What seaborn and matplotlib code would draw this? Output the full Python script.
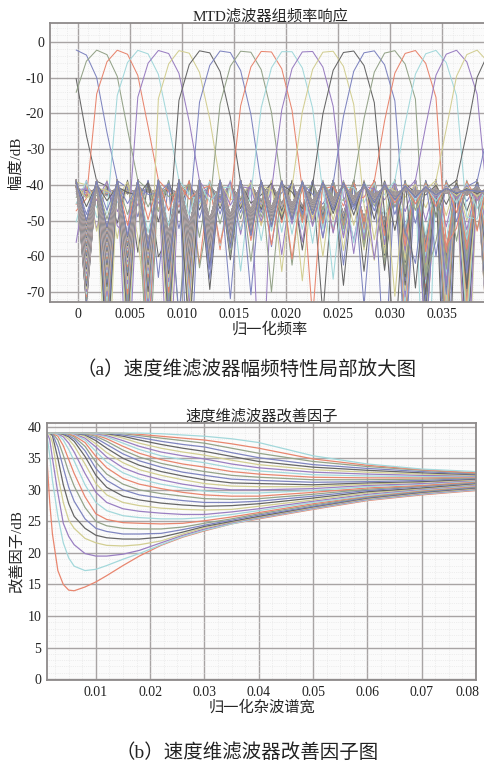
import numpy as np
import pandas as pd
import matplotlib
matplotlib.use("Agg")
import matplotlib.pyplot as plt
from matplotlib.ticker import FixedLocator, FixedFormatter, MultipleLocator
from matplotlib.transforms import ScaledTranslation
import seaborn as sns

# faded MATLAB colour order (b, g, r, c, m, y, k) as printed
line_colors = ["#7f85c0", "#94a389", "#e8866f", "#a3d8db", "#9a7fc2", "#d2ce92", "#666666"]

# ---- (a) MTD filter bank, Dolph-Chebyshev weighted DFT filters
n_filters = 498          # filters / pulses in the bank
cheb_sidelobe_db = 36.5  # sidelobe level below the main lobe
peak_level_db = -2.2     # level of the main lobe peaks
freq_step = 0.000988     # spacing of the computed frequency points
first_freq = -0.00017    # first computed frequency point
n_freq_shown = 41
first_filter, last_filter = -55, 85   # filters drawn (negative = wrapped)

freq_ticks = [0, 0.005, 0.010, 0.015, 0.020, 0.025, 0.030, 0.035]
freq_tick_labels = ["0", "0.005", "0.010", "0.015", "0.020", "0.025", "0.030", "0.035"]
gain_ticks = [0, -10, -20, -30, -40, -50, -60, -70]

# ---- (b) improvement factor of each filter vs clutter spectrum width
clutter_width = [0.001, 0.0015, 0.002, 0.003, 0.004, 0.005, 0.006, 0.008, 0.010, 0.012,
                 0.015, 0.018, 0.022, 0.026, 0.030, 0.035, 0.040, 0.050, 0.060, 0.070, 0.080]
if_curves = [
    [34.8, 28.0, 23.0, 17.2, 15.0, 14.1, 14.0, 14.6, 15.4, 16.4, 18.0, 19.5, 21.2, 22.5, 23.5, 24.6, 25.4, 26.9, 28.3, 29.2, 29.9],
    [38.6, 35.5, 31.5, 25.8, 21.6, 19.2, 17.9, 17.2, 17.4, 18.0, 19.0, 19.9, 21.3, 22.6, 23.6, 24.6, 25.5, 27.0, 28.4, 29.3, 30.0],
    [39.0, 38.0, 35.0, 29.5, 24.7, 22.6, 21.3, 19.9, 19.5, 19.5, 19.8, 20.4, 21.6, 22.8, 23.8, 24.8, 25.6, 27.1, 28.5, 29.4, 30.1],
    [39.0, 38.8, 37.5, 32.3, 28.0, 25.2, 23.9, 22.3, 21.6, 21.2, 21.1, 21.3, 21.9, 23.0, 24.0, 24.9, 25.7, 27.2, 28.6, 29.5, 30.2],
    [39.0, 39.0, 38.6, 35.0, 30.8, 27.8, 25.8, 23.9, 22.8, 22.4, 22.2, 22.2, 22.5, 23.3, 24.2, 25.0, 25.8, 27.3, 28.7, 29.6, 30.3],
    [39.0, 39.0, 38.9, 36.8, 33.5, 30.4, 28.2, 25.4, 23.9, 23.4, 23.0, 23.0, 23.1, 23.7, 24.4, 25.2, 26.0, 27.4, 28.8, 29.7, 30.4],
    [39.0, 39.0, 39.0, 37.9, 35.5, 32.8, 30.6, 27.2, 25.0, 24.3, 23.9, 23.8, 23.8, 24.1, 24.7, 25.4, 26.2, 27.6, 28.9, 29.8, 30.5],
    [39.0, 39.0, 39.0, 38.5, 37.0, 34.8, 32.6, 28.9, 26.2, 25.3, 24.8, 24.7, 24.6, 24.7, 25.1, 25.7, 26.4, 27.8, 29.0, 29.9, 30.6],
    [39.0, 39.0, 39.0, 38.8, 37.9, 36.4, 34.6, 30.8, 28.0, 26.7, 25.9, 25.6, 25.4, 25.4, 25.6, 26.1, 26.7, 28.0, 29.1, 30.0, 30.7],
    [39.0, 39.0, 39.0, 38.9, 38.4, 37.4, 36.0, 32.6, 29.6, 28.0, 27.0, 26.6, 26.3, 26.1, 26.1, 26.5, 27.0, 28.2, 29.3, 30.1, 30.8],
    [39.0, 39.0, 39.0, 39.0, 38.7, 38.0, 37.0, 34.1, 31.0, 29.2, 28.0, 27.5, 27.1, 26.9, 26.8, 26.9, 27.4, 28.4, 29.5, 30.2, 30.9],
    [39.0, 39.0, 39.0, 39.0, 38.8, 38.4, 37.7, 35.3, 32.3, 30.4, 29.0, 28.4, 27.9, 27.6, 27.4, 27.5, 27.8, 28.7, 29.7, 30.3, 31.0],
    [39.0, 39.0, 39.0, 39.0, 38.9, 38.6, 38.1, 36.2, 33.4, 31.5, 30.0, 29.2, 28.7, 28.3, 28.0, 28.0, 28.2, 29.0, 29.9, 30.5, 31.1],
    [39.0, 39.0, 39.0, 39.0, 39.0, 38.8, 38.4, 36.9, 34.4, 32.5, 30.9, 30.0, 29.4, 29.0, 28.6, 28.5, 28.6, 29.3, 30.1, 30.6, 31.2],
    [39.0, 39.0, 39.0, 39.0, 39.0, 38.9, 38.6, 37.5, 35.3, 33.5, 31.8, 30.9, 30.2, 29.6, 29.2, 29.0, 29.0, 29.6, 30.3, 30.7, 31.3],
    [39.0, 39.0, 39.0, 39.0, 39.0, 39.0, 38.8, 37.9, 36.1, 34.4, 32.7, 31.7, 30.9, 30.3, 29.8, 29.5, 29.5, 29.9, 30.5, 30.9, 31.4],
    [39.0, 39.0, 39.0, 39.0, 39.0, 39.0, 38.9, 38.2, 36.8, 35.2, 33.5, 32.5, 31.6, 30.9, 30.4, 30.0, 30.0, 30.2, 30.7, 31.0, 31.5],
    [39.0, 39.0, 39.0, 39.0, 39.0, 39.0, 39.0, 38.5, 37.3, 35.9, 34.3, 33.2, 32.3, 31.6, 31.0, 30.6, 30.5, 30.5, 30.9, 31.2, 31.6],
    [39.0, 39.0, 39.0, 39.0, 39.0, 39.0, 39.0, 38.7, 37.8, 36.6, 35.0, 33.9, 32.9, 32.2, 31.6, 31.1, 31.0, 30.8, 31.1, 31.3, 31.7],
    [39.0, 39.0, 39.0, 39.0, 39.0, 39.0, 39.0, 38.8, 38.2, 37.2, 35.7, 34.6, 33.6, 32.8, 32.3, 31.7, 31.5, 31.2, 31.3, 31.5, 31.8],
    [39.0, 39.0, 39.0, 39.0, 39.0, 39.0, 39.0, 38.9, 38.5, 37.7, 36.3, 35.2, 34.2, 33.5, 32.9, 32.3, 32.0, 31.6, 31.6, 31.7, 31.9],
    [39.0, 39.0, 39.0, 39.0, 39.0, 39.0, 39.0, 39.0, 38.7, 38.1, 36.9, 35.8, 34.8, 34.1, 33.6, 32.9, 32.5, 32.0, 31.9, 31.9, 32.0],
    [39.0, 39.0, 39.0, 39.0, 39.0, 39.0, 39.0, 39.0, 38.8, 38.4, 37.4, 36.4, 35.4, 34.8, 34.3, 33.5, 33.0, 32.4, 32.2, 32.1, 32.1],
    [39.0, 39.0, 39.0, 39.0, 39.0, 39.0, 39.0, 39.0, 38.9, 38.6, 37.8, 36.9, 36.0, 35.4, 34.9, 34.1, 33.5, 32.8, 32.5, 32.3, 32.2],
    [39.0, 39.0, 39.0, 39.0, 39.0, 39.0, 39.0, 39.0, 39.0, 38.8, 38.2, 37.4, 36.6, 36.0, 35.5, 34.7, 34.0, 33.2, 32.8, 32.5, 32.3],
    [39.0, 39.0, 39.0, 39.0, 39.0, 39.0, 39.0, 39.0, 39.0, 38.9, 38.5, 37.9, 37.2, 36.6, 36.1, 35.3, 34.5, 33.6, 33.1, 32.7, 32.4],
    [39.0, 39.0, 39.0, 39.0, 39.0, 39.0, 39.0, 39.0, 39.0, 39.0, 38.7, 38.3, 37.7, 37.2, 36.8, 35.9, 35.1, 34.0, 33.4, 32.9, 32.5],
    [39.0, 39.0, 39.0, 39.0, 39.0, 39.0, 39.0, 39.0, 39.0, 39.0, 38.9, 38.6, 38.2, 37.8, 37.4, 36.6, 35.8, 34.5, 33.7, 33.1, 32.6],
    [39.0, 39.0, 39.0, 39.0, 39.0, 39.0, 39.0, 39.0, 39.0, 39.0, 39.0, 38.8, 38.5, 38.2, 37.9, 37.3, 36.6, 34.9, 33.9, 33.2, 32.7],
    [39.0, 39.0, 39.0, 39.0, 39.0, 39.0, 39.0, 39.0, 39.0, 39.0, 39.0, 39.0, 38.9, 38.7, 38.5, 38.1, 37.5, 35.4, 34.1, 33.3, 32.9],
]
width_ticks = [0.01, 0.02, 0.03, 0.04, 0.05, 0.06, 0.07, 0.08]
width_tick_labels = ["0.01", "0.02", "0.03", "0.04", "0.05", "0.06", "0.07", "0.08"]
if_ticks = [0, 5, 10, 15, 20, 25, 30, 35, 40]


def chebwin(m, at):
    # Dolph-Chebyshev window (same construction as scipy.signal.windows.chebwin)
    order = m - 1.0
    beta = np.cosh(np.arccosh(10 ** (at / 20.0)) / order)
    x = beta * np.cos(np.pi * np.arange(m) / m)
    p = np.zeros(m)
    hi = x > 1
    lo = x < -1
    mid = ~(hi | lo)
    p[hi] = np.cosh(order * np.arccosh(x[hi]))
    p[lo] = (2 * (m % 2) - 1) * np.cosh(order * np.arccosh(-x[lo]))
    p[mid] = np.cos(order * np.arccos(x[mid]))
    if m % 2:
        w = np.real(np.fft.fft(p))
        n = (m + 1) // 2
        w = w[:n]
        w = np.concatenate((w[n - 1:0:-1], w))
    else:
        p = p * np.exp(1j * np.pi / m * np.arange(m))
        w = np.real(np.fft.fft(p))
        n = m // 2 + 1
        w = np.concatenate((w[n - 1:0:-1], w[1:n]))
    return w / w.max()


# filter k = window modulated to k / n_filters, evaluated on the frequency points
win = chebwin(n_filters, cheb_sidelobe_db)
freqs = first_freq + freq_step * np.arange(n_freq_shown)
k_idx = np.arange(first_filter, last_filter)
offs = freqs[None, :] - k_idx[:, None] / n_filters
taps = np.arange(n_filters)
resp = np.abs(np.exp(-2j * np.pi * offs.ravel()[:, None] * taps[None, :]) @ win)
gain = 20 * np.log10(np.maximum(resp / win.sum(), 1e-8)) + peak_level_db

df_a = pd.DataFrame({
    "freq": np.tile(freqs, len(k_idx)),
    "gain": gain,
    "filter": np.repeat(["f%04d" % (k + 100) for k in k_idx], n_freq_shown),
})
pal_a = {"f%04d" % (k + 100): line_colors[k % 7] for k in k_idx}

rows = []
for i, vals in enumerate(if_curves):
    for x, v in zip(clutter_width, vals):
        rows.append(("c%02d" % i, x, v))
df_b = pd.DataFrame(rows, columns=["curve", "width", "IF"])
pal_b = {"c%02d" % i: line_colors[(i + 2) % 7] for i in range(len(if_curves))}

sns.set_theme(style="white")
plt.rcParams["font.family"] = ["Liberation Serif", "Noto Sans CJK SC"]
plt.rcParams["axes.unicode_minus"] = False

W, H = 484, 766
fig = plt.figure(figsize=(W / 100, H / 100), dpi=100)
fig.patch.set_facecolor("white")


def px_axes(left, top, right, bottom):
    return fig.add_axes([left / W, 1 - bottom / H, (right - left) / W, (bottom - top) / H])


def style_axes(ax):
    ax.set_facecolor("#fbfbfb")
    ax.grid(True, which="major", color="#a8a4a4", lw=1.0, ls="-")
    ax.grid(True, which="minor", color="#e2e2e2", lw=0.5, ls=":")
    ax.tick_params(which="both", length=0, labelsize=10, colors="#222222")
    ax.tick_params(axis="y", pad=4)
    ax.tick_params(axis="x", pad=4)
    for s in ax.spines.values():
        s.set_color("#8e8a8a")
        s.set_linewidth(1.3)
    ax.set_axisbelow(True)


# ---- panel (a)
ax1 = px_axes(50, 23, 490, 302)
sns.lineplot(data=df_a, x="freq", y="gain", hue="filter", palette=pal_a,
             estimator=None, sort=False, legend=False, lw=0.75, ax=ax1)
ax1.set_xlim(-0.00268, 0.0396)
ax1.set_ylim(-72.8, 5.3)
ax1.xaxis.set_major_locator(FixedLocator(freq_ticks))
ax1.xaxis.set_major_formatter(FixedFormatter(freq_tick_labels))
ax1.yaxis.set_major_locator(FixedLocator(gain_ticks))
ax1.xaxis.set_minor_locator(MultipleLocator(0.001))
ax1.yaxis.set_minor_locator(MultipleLocator(2))
style_axes(ax1)
ax1.set_title("MTD滤波器组频率响应", fontsize=11, pad=2)
ax1.set_xlabel("归一化频率", fontsize=11, labelpad=1)
ax1.set_ylabel("幅度/dB", fontsize=11, labelpad=2)

# ---- panel (b)
ax2 = px_axes(47, 423, 476, 680)
sns.lineplot(data=df_b, x="width", y="IF", hue="curve", palette=pal_b,
             estimator=None, sort=False, legend=False, lw=0.9, ax=ax2)
ax2.set_xlim(0.001, 0.08)
ax2.set_ylim(-0.15, 40.6)
ax2.xaxis.set_major_locator(FixedLocator(width_ticks))
ax2.xaxis.set_major_formatter(FixedFormatter(width_tick_labels))
ax2.yaxis.set_major_locator(FixedLocator(if_ticks))
ax2.xaxis.set_minor_locator(MultipleLocator(0.0025))
ax2.yaxis.set_minor_locator(MultipleLocator(1))
style_axes(ax2)
ax2.set_title("速度维滤波器改善因子", fontsize=11, pad=2)
ax2.set_xlabel("归一化杂波谱宽", fontsize=11, labelpad=1)
ax2.set_ylabel("改善因子/dB", fontsize=11, labelpad=2)

fig.text(247 / W, 1 - 370 / H, "（a）速度维滤波器幅频特性局部放大图", fontsize=14,
         ha="center", va="center", color="#222222")
fig.text(247 / W, 1 - 753 / H, "（b）速度维滤波器改善因子图", fontsize=14,
         ha="center", va="center", color="#222222")

# nudge the last tick label of (b) so it stays inside the picture
last_tick = ax2.xaxis.get_major_ticks()[-1]
last_tick.label1.set_transform(last_tick.label1.get_transform()
                               + ScaledTranslation(-0.08, 0, fig.dpi_scale_trans))

fig.savefig("out.png", dpi=100, facecolor="white")
